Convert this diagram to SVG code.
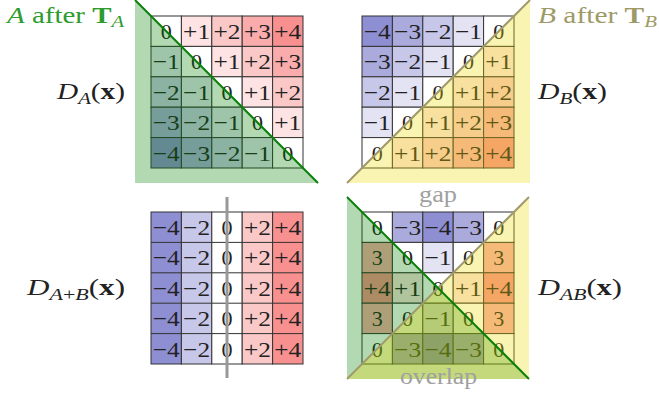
<svg xmlns="http://www.w3.org/2000/svg" width="659" height="393" viewBox="0 0 659 393">
<style>
.c{stroke:#333;stroke-width:1}
.n4{fill:#8e8ed2}.n3{fill:#aaaadd}.n2{fill:#c7c7e9}.n1{fill:#e3e3f4}.z{fill:#fff}
.p1{fill:#fde3e3}.p2{fill:#fbc8c8}.p3{fill:#faacac}.p4{fill:#f89090}
.v{font-family:"Liberation Serif",serif;font-size:22px;fill:#222;text-anchor:middle}
.lbl{font-family:"Liberation Serif",serif;font-size:24px;fill:#222}
.i{font-style:italic}
.gov{fill:#008000;fill-opacity:.3}
.yov{fill:#f0dc00;fill-opacity:.3}
.gl{stroke:#0a800a;stroke-width:2;fill:none}
.yl{stroke:#a09a6c;stroke-width:2;fill:none}
</style>

<g id="panel-A" transform="translate(151,16)">
<rect class="c z" x="0" y="0" width="30.4" height="30.4"/><rect class="c p1" x="30.4" y="0" width="30.4" height="30.4"/><rect class="c p2" x="60.8" y="0" width="30.4" height="30.4"/><rect class="c p3" x="91.2" y="0" width="30.4" height="30.4"/><rect class="c p4" x="121.6" y="0" width="30.4" height="30.4"/>
<rect class="c n1" x="0" y="30.4" width="30.4" height="30.4"/><rect class="c z" x="30.4" y="30.4" width="30.4" height="30.4"/><rect class="c p1" x="60.8" y="30.4" width="30.4" height="30.4"/><rect class="c p2" x="91.2" y="30.4" width="30.4" height="30.4"/><rect class="c p3" x="121.6" y="30.4" width="30.4" height="30.4"/>
<rect class="c n2" x="0" y="60.8" width="30.4" height="30.4"/><rect class="c n1" x="30.4" y="60.8" width="30.4" height="30.4"/><rect class="c z" x="60.8" y="60.8" width="30.4" height="30.4"/><rect class="c p1" x="91.2" y="60.8" width="30.4" height="30.4"/><rect class="c p2" x="121.6" y="60.8" width="30.4" height="30.4"/>
<rect class="c n3" x="0" y="91.2" width="30.4" height="30.4"/><rect class="c n2" x="30.4" y="91.2" width="30.4" height="30.4"/><rect class="c n1" x="60.8" y="91.2" width="30.4" height="30.4"/><rect class="c z" x="91.2" y="91.2" width="30.4" height="30.4"/><rect class="c p1" x="121.6" y="91.2" width="30.4" height="30.4"/>
<rect class="c n4" x="0" y="121.6" width="30.4" height="30.4"/><rect class="c n3" x="30.4" y="121.6" width="30.4" height="30.4"/><rect class="c n2" x="60.8" y="121.6" width="30.4" height="30.4"/><rect class="c n1" x="91.2" y="121.6" width="30.4" height="30.4"/><rect class="c z" x="121.6" y="121.6" width="30.4" height="30.4"/>
<text class="v" x="15.2" y="22.9">0</text><text class="v" x="45.6" y="22.9" textLength="27" lengthAdjust="spacingAndGlyphs">+1</text><text class="v" x="76" y="22.9" textLength="27" lengthAdjust="spacingAndGlyphs">+2</text><text class="v" x="106.4" y="22.9" textLength="27" lengthAdjust="spacingAndGlyphs">+3</text><text class="v" x="136.8" y="22.9" textLength="27" lengthAdjust="spacingAndGlyphs">+4</text>
<text class="v" x="15.2" y="53.3" textLength="27" lengthAdjust="spacingAndGlyphs">−1</text><text class="v" x="45.6" y="53.3">0</text><text class="v" x="76" y="53.3" textLength="27" lengthAdjust="spacingAndGlyphs">+1</text><text class="v" x="106.4" y="53.3" textLength="27" lengthAdjust="spacingAndGlyphs">+2</text><text class="v" x="136.8" y="53.3" textLength="27" lengthAdjust="spacingAndGlyphs">+3</text>
<text class="v" x="15.2" y="83.7" textLength="27" lengthAdjust="spacingAndGlyphs">−2</text><text class="v" x="45.6" y="83.7" textLength="27" lengthAdjust="spacingAndGlyphs">−1</text><text class="v" x="76" y="83.7">0</text><text class="v" x="106.4" y="83.7" textLength="27" lengthAdjust="spacingAndGlyphs">+1</text><text class="v" x="136.8" y="83.7" textLength="27" lengthAdjust="spacingAndGlyphs">+2</text>
<text class="v" x="15.2" y="114.1" textLength="27" lengthAdjust="spacingAndGlyphs">−3</text><text class="v" x="45.6" y="114.1" textLength="27" lengthAdjust="spacingAndGlyphs">−2</text><text class="v" x="76" y="114.1" textLength="27" lengthAdjust="spacingAndGlyphs">−1</text><text class="v" x="106.4" y="114.1">0</text><text class="v" x="136.8" y="114.1" textLength="27" lengthAdjust="spacingAndGlyphs">+1</text>
<text class="v" x="15.2" y="144.5" textLength="27" lengthAdjust="spacingAndGlyphs">−4</text><text class="v" x="45.6" y="144.5" textLength="27" lengthAdjust="spacingAndGlyphs">−3</text><text class="v" x="76" y="144.5" textLength="27" lengthAdjust="spacingAndGlyphs">−2</text><text class="v" x="106.4" y="144.5" textLength="27" lengthAdjust="spacingAndGlyphs">−1</text><text class="v" x="136.8" y="144.5">0</text>
</g>
<g id="overlay-A">
<polygon class="gov" points="135,0 135,183 318,183"/>
<line class="gl" x1="135" y1="0" x2="318" y2="183"/>
</g>

<g id="panel-B" transform="translate(362,16)">
<rect class="c n4" x="0" y="0" width="30.4" height="30.4"/><rect class="c n3" x="30.4" y="0" width="30.4" height="30.4"/><rect class="c n2" x="60.8" y="0" width="30.4" height="30.4"/><rect class="c n1" x="91.2" y="0" width="30.4" height="30.4"/><rect class="c z" x="121.6" y="0" width="30.4" height="30.4"/>
<rect class="c n3" x="0" y="30.4" width="30.4" height="30.4"/><rect class="c n2" x="30.4" y="30.4" width="30.4" height="30.4"/><rect class="c n1" x="60.8" y="30.4" width="30.4" height="30.4"/><rect class="c z" x="91.2" y="30.4" width="30.4" height="30.4"/><rect class="c p1" x="121.6" y="30.4" width="30.4" height="30.4"/>
<rect class="c n2" x="0" y="60.8" width="30.4" height="30.4"/><rect class="c n1" x="30.4" y="60.8" width="30.4" height="30.4"/><rect class="c z" x="60.8" y="60.8" width="30.4" height="30.4"/><rect class="c p1" x="91.2" y="60.8" width="30.4" height="30.4"/><rect class="c p2" x="121.6" y="60.8" width="30.4" height="30.4"/>
<rect class="c n1" x="0" y="91.2" width="30.4" height="30.4"/><rect class="c z" x="30.4" y="91.2" width="30.4" height="30.4"/><rect class="c p1" x="60.8" y="91.2" width="30.4" height="30.4"/><rect class="c p2" x="91.2" y="91.2" width="30.4" height="30.4"/><rect class="c p3" x="121.6" y="91.2" width="30.4" height="30.4"/>
<rect class="c z" x="0" y="121.6" width="30.4" height="30.4"/><rect class="c p1" x="30.4" y="121.6" width="30.4" height="30.4"/><rect class="c p2" x="60.8" y="121.6" width="30.4" height="30.4"/><rect class="c p3" x="91.2" y="121.6" width="30.4" height="30.4"/><rect class="c p4" x="121.6" y="121.6" width="30.4" height="30.4"/>
<text class="v" x="15.2" y="22.9" textLength="27" lengthAdjust="spacingAndGlyphs">−4</text><text class="v" x="45.6" y="22.9" textLength="27" lengthAdjust="spacingAndGlyphs">−3</text><text class="v" x="76" y="22.9" textLength="27" lengthAdjust="spacingAndGlyphs">−2</text><text class="v" x="106.4" y="22.9" textLength="27" lengthAdjust="spacingAndGlyphs">−1</text><text class="v" x="136.8" y="22.9">0</text>
<text class="v" x="15.2" y="53.3" textLength="27" lengthAdjust="spacingAndGlyphs">−3</text><text class="v" x="45.6" y="53.3" textLength="27" lengthAdjust="spacingAndGlyphs">−2</text><text class="v" x="76" y="53.3" textLength="27" lengthAdjust="spacingAndGlyphs">−1</text><text class="v" x="106.4" y="53.3">0</text><text class="v" x="136.8" y="53.3" textLength="27" lengthAdjust="spacingAndGlyphs">+1</text>
<text class="v" x="15.2" y="83.7" textLength="27" lengthAdjust="spacingAndGlyphs">−2</text><text class="v" x="45.6" y="83.7" textLength="27" lengthAdjust="spacingAndGlyphs">−1</text><text class="v" x="76" y="83.7">0</text><text class="v" x="106.4" y="83.7" textLength="27" lengthAdjust="spacingAndGlyphs">+1</text><text class="v" x="136.8" y="83.7" textLength="27" lengthAdjust="spacingAndGlyphs">+2</text>
<text class="v" x="15.2" y="114.1" textLength="27" lengthAdjust="spacingAndGlyphs">−1</text><text class="v" x="45.6" y="114.1">0</text><text class="v" x="76" y="114.1" textLength="27" lengthAdjust="spacingAndGlyphs">+1</text><text class="v" x="106.4" y="114.1" textLength="27" lengthAdjust="spacingAndGlyphs">+2</text><text class="v" x="136.8" y="114.1" textLength="27" lengthAdjust="spacingAndGlyphs">+3</text>
<text class="v" x="15.2" y="144.5">0</text><text class="v" x="45.6" y="144.5" textLength="27" lengthAdjust="spacingAndGlyphs">+1</text><text class="v" x="76" y="144.5" textLength="27" lengthAdjust="spacingAndGlyphs">+2</text><text class="v" x="106.4" y="144.5" textLength="27" lengthAdjust="spacingAndGlyphs">+3</text><text class="v" x="136.8" y="144.5" textLength="27" lengthAdjust="spacingAndGlyphs">+4</text>
</g>
<g id="overlay-B">
<polygon class="yov" points="530,0 530,183 347,183"/>
<line class="yl" x1="347" y1="183" x2="530" y2="0"/>
</g>

<g id="panel-AplusB" transform="translate(151,212)">
<rect class="c n4" x="0" y="0" width="30.4" height="152"/>
<rect class="c n2" x="30.4" y="0" width="30.4" height="152"/>
<rect class="c z" x="60.8" y="0" width="30.4" height="152"/>
<rect class="c p2" x="91.2" y="0" width="30.4" height="152"/>
<rect class="c p4" x="121.6" y="0" width="30.4" height="152"/>
<path d="M0 30.4H152M0 60.8H152M0 91.2H152M0 121.6H152" stroke="#333" stroke-width="1"/>
<text class="v" x="15.2" y="22.9" textLength="27" lengthAdjust="spacingAndGlyphs">−4</text><text class="v" x="45.6" y="22.9" textLength="27" lengthAdjust="spacingAndGlyphs">−2</text><text class="v" x="76" y="22.9">0</text><text class="v" x="106.4" y="22.9" textLength="27" lengthAdjust="spacingAndGlyphs">+2</text><text class="v" x="136.8" y="22.9" textLength="27" lengthAdjust="spacingAndGlyphs">+4</text>
<text class="v" x="15.2" y="53.3" textLength="27" lengthAdjust="spacingAndGlyphs">−4</text><text class="v" x="45.6" y="53.3" textLength="27" lengthAdjust="spacingAndGlyphs">−2</text><text class="v" x="76" y="53.3">0</text><text class="v" x="106.4" y="53.3" textLength="27" lengthAdjust="spacingAndGlyphs">+2</text><text class="v" x="136.8" y="53.3" textLength="27" lengthAdjust="spacingAndGlyphs">+4</text>
<text class="v" x="15.2" y="83.7" textLength="27" lengthAdjust="spacingAndGlyphs">−4</text><text class="v" x="45.6" y="83.7" textLength="27" lengthAdjust="spacingAndGlyphs">−2</text><text class="v" x="76" y="83.7">0</text><text class="v" x="106.4" y="83.7" textLength="27" lengthAdjust="spacingAndGlyphs">+2</text><text class="v" x="136.8" y="83.7" textLength="27" lengthAdjust="spacingAndGlyphs">+4</text>
<text class="v" x="15.2" y="114.1" textLength="27" lengthAdjust="spacingAndGlyphs">−4</text><text class="v" x="45.6" y="114.1" textLength="27" lengthAdjust="spacingAndGlyphs">−2</text><text class="v" x="76" y="114.1">0</text><text class="v" x="106.4" y="114.1" textLength="27" lengthAdjust="spacingAndGlyphs">+2</text><text class="v" x="136.8" y="114.1" textLength="27" lengthAdjust="spacingAndGlyphs">+4</text>
<text class="v" x="15.2" y="144.5" textLength="27" lengthAdjust="spacingAndGlyphs">−4</text><text class="v" x="45.6" y="144.5" textLength="27" lengthAdjust="spacingAndGlyphs">−2</text><text class="v" x="76" y="144.5">0</text><text class="v" x="106.4" y="144.5" textLength="27" lengthAdjust="spacingAndGlyphs">+2</text><text class="v" x="136.8" y="144.5" textLength="27" lengthAdjust="spacingAndGlyphs">+4</text>
</g>
<line id="split-line" x1="227" y1="197" x2="227" y2="378" stroke="#999" stroke-width="3"/>

<g id="panel-AB" transform="translate(362,212)">
<rect class="c z" x="0" y="0" width="30.4" height="30.4"/><rect class="c n3" x="30.4" y="0" width="30.4" height="30.4"/><rect class="c n4" x="60.8" y="0" width="30.4" height="30.4"/><rect class="c n3" x="91.2" y="0" width="30.4" height="30.4"/><rect class="c z" x="121.6" y="0" width="30.4" height="30.4"/>
<rect class="c p3" x="0" y="30.4" width="30.4" height="30.4"/><rect class="c z" x="30.4" y="30.4" width="30.4" height="30.4"/><rect class="c n1" x="60.8" y="30.4" width="30.4" height="30.4"/><rect class="c z" x="91.2" y="30.4" width="30.4" height="30.4"/><rect class="c p3" x="121.6" y="30.4" width="30.4" height="30.4"/>
<rect class="c p4" x="0" y="60.8" width="30.4" height="30.4"/><rect class="c p1" x="30.4" y="60.8" width="30.4" height="30.4"/><rect class="c z" x="60.8" y="60.8" width="30.4" height="30.4"/><rect class="c p1" x="91.2" y="60.8" width="30.4" height="30.4"/><rect class="c p4" x="121.6" y="60.8" width="30.4" height="30.4"/>
<rect class="c p3" x="0" y="91.2" width="30.4" height="30.4"/><rect class="c z" x="30.4" y="91.2" width="30.4" height="30.4"/><rect class="c n1" x="60.8" y="91.2" width="30.4" height="30.4"/><rect class="c z" x="91.2" y="91.2" width="30.4" height="30.4"/><rect class="c p3" x="121.6" y="91.2" width="30.4" height="30.4"/>
<rect class="c z" x="0" y="121.6" width="30.4" height="30.4"/><rect class="c n3" x="30.4" y="121.6" width="30.4" height="30.4"/><rect class="c n4" x="60.8" y="121.6" width="30.4" height="30.4"/><rect class="c n3" x="91.2" y="121.6" width="30.4" height="30.4"/><rect class="c z" x="121.6" y="121.6" width="30.4" height="30.4"/>
<text class="v" x="15.2" y="22.9">0</text><text class="v" x="45.6" y="22.9" textLength="27" lengthAdjust="spacingAndGlyphs">−3</text><text class="v" x="76" y="22.9" textLength="27" lengthAdjust="spacingAndGlyphs">−4</text><text class="v" x="106.4" y="22.9" textLength="27" lengthAdjust="spacingAndGlyphs">−3</text><text class="v" x="136.8" y="22.9">0</text>
<text class="v" x="15.2" y="53.3">3</text><text class="v" x="45.6" y="53.3">0</text><text class="v" x="76" y="53.3" textLength="27" lengthAdjust="spacingAndGlyphs">−1</text><text class="v" x="106.4" y="53.3">0</text><text class="v" x="136.8" y="53.3">3</text>
<text class="v" x="15.2" y="83.7" textLength="27" lengthAdjust="spacingAndGlyphs">+4</text><text class="v" x="45.6" y="83.7" textLength="27" lengthAdjust="spacingAndGlyphs">+1</text><text class="v" x="76" y="83.7">0</text><text class="v" x="106.4" y="83.7" textLength="27" lengthAdjust="spacingAndGlyphs">+1</text><text class="v" x="136.8" y="83.7" textLength="27" lengthAdjust="spacingAndGlyphs">+4</text>
<text class="v" x="15.2" y="114.1">3</text><text class="v" x="45.6" y="114.1">0</text><text class="v" x="76" y="114.1" textLength="27" lengthAdjust="spacingAndGlyphs">−1</text><text class="v" x="106.4" y="114.1">0</text><text class="v" x="136.8" y="114.1">3</text>
<text class="v" x="15.2" y="144.5">0</text><text class="v" x="45.6" y="144.5" textLength="27" lengthAdjust="spacingAndGlyphs">−3</text><text class="v" x="76" y="144.5" textLength="27" lengthAdjust="spacingAndGlyphs">−4</text><text class="v" x="106.4" y="144.5" textLength="27" lengthAdjust="spacingAndGlyphs">−3</text><text class="v" x="136.8" y="144.5">0</text>
</g>
<g id="overlay-AB">
<polygon class="gov" points="347,197 347,379 529,379"/>
<polygon class="yov" points="529,197 529,379 347,379"/>
<line class="yl" x1="347" y1="379" x2="529" y2="197"/>
<line class="gl" x1="347" y1="197" x2="529" y2="379"/>
</g>

<g id="labels">
<text class="lbl" x="7" y="23" style="fill:#2e9b2e" textLength="117" lengthAdjust="spacingAndGlyphs"><tspan class="i">A</tspan> after <tspan font-weight="bold">T</tspan><tspan class="i" font-size="17" dy="4">A</tspan></text>
<text class="lbl" x="538" y="23" style="fill:#9e9a68" textLength="119" lengthAdjust="spacingAndGlyphs"><tspan class="i">B</tspan> after <tspan font-weight="bold">T</tspan><tspan class="i" font-size="17" dy="4">B</tspan></text>
<text class="lbl" x="57" y="99" textLength="68" lengthAdjust="spacingAndGlyphs"><tspan class="i">D</tspan><tspan class="i" font-size="17" dy="5">A</tspan><tspan dy="-5">(</tspan><tspan font-weight="bold">x</tspan>)</text>
<text class="lbl" x="538" y="99" textLength="69" lengthAdjust="spacingAndGlyphs"><tspan class="i">D</tspan><tspan class="i" font-size="17" dy="5">B</tspan><tspan dy="-5">(</tspan><tspan font-weight="bold">x</tspan>)</text>
<text class="lbl" x="27" y="295" textLength="98" lengthAdjust="spacingAndGlyphs"><tspan class="i">D</tspan><tspan font-size="17" dy="5"><tspan class="i">A</tspan>+<tspan class="i">B</tspan></tspan><tspan dy="-5">(</tspan><tspan font-weight="bold">x</tspan>)</text>
<text class="lbl" x="538" y="295" textLength="84" lengthAdjust="spacingAndGlyphs"><tspan class="i">D</tspan><tspan class="i" font-size="17" dy="5">AB</tspan><tspan dy="-5">(</tspan><tspan font-weight="bold">x</tspan>)</text>
<text class="lbl" x="419" y="202" style="fill:#a0a0a0" textLength="38" lengthAdjust="spacingAndGlyphs">gap</text>
<text class="lbl" x="400" y="384" style="fill:#a0a0a0" textLength="77" lengthAdjust="spacingAndGlyphs">overlap</text>
</g>
</svg>
